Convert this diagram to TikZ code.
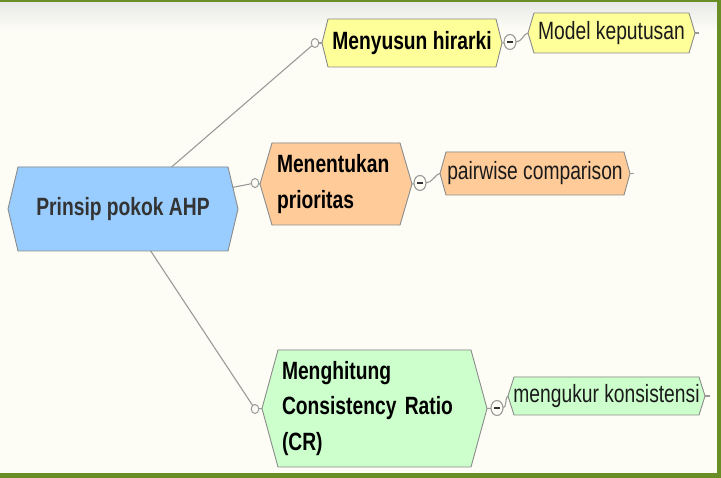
\documentclass[tikz,border=0pt]{standalone}
\usepackage{fontspec}
\setmainfont{Liberation Sans}[FakeStretch=0.77]
\usetikzlibrary{calc,shapes.geometric}
\pgfdeclarelayer{bg}
\pgfdeclarelayer{edges}
\pgfdeclarelayer{shapes}
\pgfsetlayers{bg,edges,shapes,main}
\definecolor{cream}{HTML}{FDFDF5}
\definecolor{framegreen}{HTML}{6A8E26}
\definecolor{rootblue}{HTML}{99CCFF}
\definecolor{hyellow}{HTML}{FFFF99}
\definecolor{horange}{HTML}{FFCC99}
\definecolor{hgreen}{HTML}{CCFFCC}
\definecolor{linegray}{HTML}{9A9A9A}
\definecolor{edgegray}{HTML}{8C8C8C}
\definecolor{shadowgray}{HTML}{BDBDB5}
\definecolor{roottext}{HTML}{333333}
\definecolor{subtext}{HTML}{1A1A1A}
\tikzset{
  every node/.style={inner sep=0pt, outer sep=0pt},
  roottopic/.style={font=\fontsize{25}{35.5}\selectfont\bfseries, text=roottext},
  topic/.style={font=\fontsize{25}{35.5}\selectfont\bfseries, text=black},
  subtopic/.style={font=\fontsize{25}{35.5}\selectfont, text=subtext},
  hexline/.style={draw=edgegray, line width=0.9pt, line join=round},
  conn/.style={draw=linegray, line width=1.1pt},
  knob/.style={ellipse, draw=linegray, fill=cream, line width=1pt, minimum width=7.5pt, minimum height=9pt},
  collapse/.style={ellipse, draw=linegray, fill=cream, line width=1.1pt, minimum width=12pt, minimum height=15pt,
    path picture={\draw[line width=1.8pt, black!80] ([xshift=-2.8pt]path picture bounding box.center) -- ([xshift=2.8pt]path picture bounding box.center);}},
}
\newcommand\hexshape[3]{%
  \begin{pgfonlayer}{shapes}
    \fill[shadowgray, shift={(1.5,1.5)}] ([xshift=#3pt]#1.north west) -- ([xshift=-#3pt]#1.north east) -- (#1.east) -- ([xshift=-#3pt]#1.south east) -- ([xshift=#3pt]#1.south west) -- (#1.west) -- cycle;
    \draw[hexline, fill=#2] ([xshift=#3pt]#1.north west) -- ([xshift=-#3pt]#1.north east) -- (#1.east) -- ([xshift=-#3pt]#1.south east) -- ([xshift=#3pt]#1.south west) -- (#1.west) -- cycle;
  \end{pgfonlayer}}
\begin{document}
\begin{tikzpicture}[x=1pt, y=-1pt]
\useasboundingbox (0,0) rectangle (721,478);
\begin{pgfonlayer}{bg}
  \fill[cream] (0,0) rectangle (721,478);
  \shade[top color=black!9, bottom color=cream] (0,2) rectangle (717,30);
  \fill[framegreen] (0,0) rectangle (721,2);
  \fill[framegreen] (717,0) rectangle (721,478);
  \fill[framegreen] (0,473) rectangle (721,478);
\end{pgfonlayer}

% nodes
\node[roottopic, minimum width=230pt, minimum height=84pt] (root) at (123,209) {Prinsip pokok AHP};
\node[topic, minimum width=180pt, minimum height=48pt] (n1) at (412,43) {Menyusun hirarki};
\node[topic, minimum width=152pt, minimum height=82pt, text width=118pt, align=left] (n2) at (336,184) {Menentukan\\prioritas};
\node[topic, minimum width=225pt, minimum height=117pt, text width=185pt, align=left] (n3) at (374.5,408.5) {Menghitung\\Consistency Ratio\\(CR)};
\node[subtopic, minimum width=167pt, minimum height=40pt] (s1) at (611.5,33) {Model keputusan};
\node[subtopic, minimum width=190pt, minimum height=43pt] (s2) at (535,173.5) {pairwise comparison};
\node[subtopic, minimum width=197pt, minimum height=38pt] (s3) at (606.5,396) {mengukur konsistensi};

\hexshape{root}{rootblue}{10}
\hexshape{n1}{hyellow}{6}
\hexshape{n2}{horange}{12}
\hexshape{n3}{hgreen}{16}
\hexshape{s1}{hyellow}{6}
\hexshape{s2}{horange}{6}
\hexshape{s3}{hgreen}{6}

% knobs
\node[knob] (k1) at (315,43) {};
\node[knob] (k2) at (255,183) {};
\node[knob] (k3) at (255,409) {};
\node[collapse] (m1) at (510,42) {};
\node[collapse] (m2) at (420,183) {};
\node[collapse] (m3) at (497,408) {};

\coordinate (t1) at ([xshift=4pt]s1.east);
\coordinate (t2) at ([xshift=4pt]s2.east);
\coordinate (t3) at ([xshift=5pt]s3.east);

\begin{pgfonlayer}{edges}
  \draw[conn] (root.center) -- (k1);
  \draw[conn] (root.center) -- (k2);
  \draw[conn] (root.center) -- (k3);
  \draw[conn] (k1) -- (n1.west);
  \draw[conn] (k2) -- (n2.west);
  \draw[conn] (k3) -- (n3.west);
  \draw[conn] (n1.east) -- (m1);
  \draw[conn] (n2.east) -- (m2);
  \draw[conn] (n3.east) -- (m3);
  \draw[conn] (m1.east) .. controls +(6,0) and +(-4,0) .. (s1.west);
  \draw[conn] (m2.east) .. controls +(6,0) and +(-4,0) .. (s2.west);
  \draw[conn] (m3.east) .. controls +(4,0) and +(-3,0) .. (s3.west);
  \draw[conn] (s1.east) -- (t1);
  \draw[conn] (s2.east) -- (t2);
  \draw[conn] (s3.east) -- (t3);
\end{pgfonlayer}
\end{tikzpicture}
\end{document}
